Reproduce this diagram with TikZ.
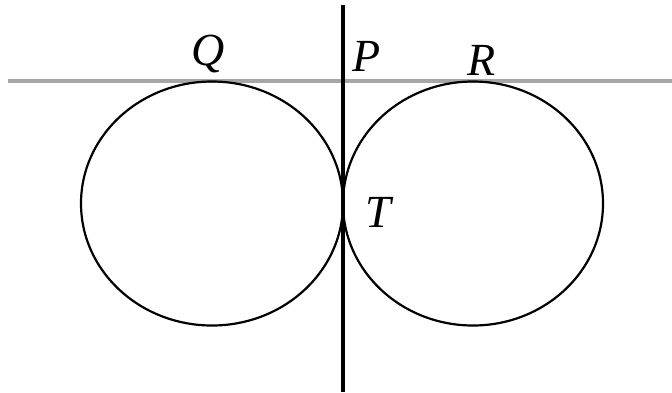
\documentclass[tikz,border=0pt]{standalone}
\usepackage{fontspec}
\setmainfont{Liberation Serif}
\begin{document}
\begin{tikzpicture}[x=0.5pt,y=-0.5pt,
  lbl/.style={inner sep=0pt,font=\fontsize{23}{27}\selectfont\itshape},
  circ/.style={draw=black,line width=1.1pt},
  tline/.style={draw=black!35,line width=2pt},
  vline/.style={draw=black,line width=2pt}]
\useasboundingbox (0,0) rectangle (672,392);
\coordinate (hl) at (8,81);
\coordinate (hr) at (672,81);
\coordinate (vt) at (343,5);
\coordinate (vb) at (343,392);
\draw[tline] (hl) -- (hr);
\draw[circ] (212,203.5) ellipse [x radius=131,y radius=122];
\draw[circ] (473,203.5) ellipse [x radius=130,y radius=122];
\draw[vline] (vt) -- (vb);
\node[lbl] (Q) at (208,54) {Q};
\node[lbl] (P) at (367,56) {P};
\node[lbl] (R) at (482,60) {R};
\node[lbl] (T) at (378,212) {T};
\end{tikzpicture}
\end{document}
